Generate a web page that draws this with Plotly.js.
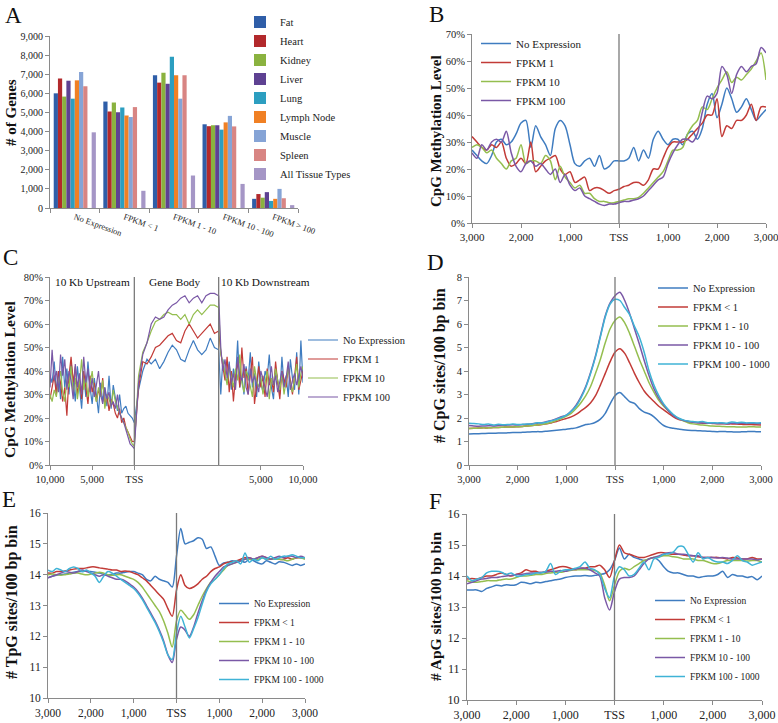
<!DOCTYPE html>
<html>
<head>
<meta charset="utf-8">
<script src="https://cdn.plot.ly/plotly-3.0.1.min.js"></script>
<style>
  body { margin: 0; background: #fff; }
  #figure { width: 778px; height: 723px; }
</style>
</head>
<body>
<div id="figure"></div>
<script>
// ---------- Panel A: genes per expression class ----------
const expr_classes = ["No Expression", "FPKM < 1", "FPKM 1 - 10", "FPKM 10 - 100", "FPKM > 100"];
const tissues = ["Fat", "Heart", "Kidney", "Liver", "Lung", "Lymph Node", "Muscle", "Spleen", "All Tissue Types"];
const tissue_colors = ["#2F5EA8", "#B2292C", "#8AB23F", "#5E4192", "#2C9EC0", "#F08024", "#86A4D6", "#D88583", "#A596C6"];

const fat_genes = [6000, 5570, 6950, 4380, 480];
const heart_genes = [6780, 5050, 6560, 4280, 730];
const kidney_genes = [5830, 5520, 7080, 4330, 540];
const liver_genes = [6660, 5010, 6500, 4330, 830];
const lung_genes = [5720, 5260, 7920, 4100, 370];
const lymph_genes = [6680, 4840, 6950, 4480, 480];
const muscle_genes = [7120, 4760, 5720, 4820, 1000];
const spleen_genes = [6370, 5280, 6950, 4270, 510];
const all_tissue_genes = [3960, 900, 1700, 1260, 150];

// ---------- shared bins for the TSS profiles (bp from TSS) ----------
const bins = [-3000,-2900,-2800,-2700,-2600,-2500,-2400,-2300,-2200,-2100,
              -2000,-1900,-1800,-1700,-1600,-1500,-1400,-1300,-1200,-1100,
              -1000,-900,-800,-700,-600,-500,-400,-300,-200,-100,
              0,100,200,300,400,500,600,700,800,900,
              1000,1100,1200,1300,1400,1500,1600,1700,1800,1900,
              2000,2100,2200,2300,2400,2500,2600,2700,2800,2900,3000];
const profile_ticks = [-3000, -2000, -1000, 0, 1000, 2000, 3000];
const profile_tick_text = ["3,000", "2,000", "1,000", "TSS", "1,000", "2,000", "3,000"];

const line_colors = ["#3F7CC0", "#C23B37", "#94BE4F", "#7A58A6", "#3FB3D6"];
const names_b = ["No Expression", "FPKM 1", "FPKM 10", "FPKM 100"];
const names_fpkm = ["No Expression", "FPKM < 1", "FPKM 1 - 10", "FPKM 10 - 100", "FPKM 100 - 1000"];

// ---------- Panel B: CpG methylation (%) around TSS ----------
const meth_noexp = [27,25,23,22,25,30,31,29,30,33, 37,38,28,36,32,29,25,35,38,36,
                    29,22,21,23,24,21,25,20,21,23, 23,23,24,28,23,27,24,31,34,31,
                    29,31,31,29,33,34,31,35,44,48, 39,44,50,46,41,43,46,42,38,40,42];
const meth_fpkm1 = [32,30,28,27,29,28,30,24,21,22, 24,22,30,19,21,23,24,25,20,18,
                    19,15,16,17,12,13,13,12,11,12, 12.5,13.5,14,15,15,14,16,20,20,24,
                    28,30,30,30,31,33,35,37,40,40, 46,32,36,35,38,38,40,44,38,43,43];
const meth_fpkm10 = [28,29,28,26,27,24,22,20,23,24, 29,22,23,23,22,25,23,16,21,17,
                     15,13,14,11,11,9,8,8,7.5,7.5, 8,8.5,9,9,9.5,11,13,15,17,19,
                     23,27,27,28,33,36,38,43,42,46, 50,53,56,52,54,53,55,57,60,63,53];
const meth_fpkm100 = [26,24,29,27,30,31,30,34,26,21, 19,22,23,21,22,20,18,20,15,18,
                      14,12,13,10,9,8,7,6.5,7,7, 7.5,8,8,8.5,9,10,12,14,16,17,
                      22,26,29,31,31,30,33,41,47,46, 48,58,55,48,55,58,56,58,59,65,63];

// ---------- Panel C: methylation across upstream / gene body / downstream ----------
// x units: -100..0 = 10 kb upstream, 0..100 = gene body (%), 100..200 = 10 kb downstream
const body_bins = [-100,-97.5,-95,-92.5,-90,-87.5,-85,-82.5,-80,-77.5,
                   -75,-72.5,-70,-67.5,-65,-62.5,-60,-57.5,-55,-52.5,
                   -50,-47.5,-45,-42.5,-40,-37.5,-35,-32.5,-30,-27.5,
                   -25,-22.5,-20,-17.5,-15,-12.5,-10,-7.5,-5,-2.5,
                   0,5,10,15,20,25,30,35,40,45,50,55,60,65,70,75,80,85,90,95,100,
                   102.5,105,107.5,110,112.5,115,117.5,120,122.5,125,
                   127.5,130,132.5,135,137.5,140,142.5,145,147.5,150,
                   152.5,155,157.5,160,162.5,165,167.5,170,172.5,175,
                   177.5,180,182.5,185,187.5,190,192.5,195,197.5,200];
const body_ticks = [-100, -50, 0, 150, 200];
const body_tick_text = ["10,000", "5,000", "TSS", "5,000", "10,000"];
const region_labels = ["10 Kb Upstream", "Gene Body", "10 Kb Downstream"];
const region_centers = [-50, 48, 155];
const region_edges = [0, 100];

const body_noexp = [38,35,44,31,40,28,46,33,41,30, 44,36,27,42,33,24,38,29,44,33,
                    26,37,30,22,35,27,33,25,38,24, 34,29,23,30,22,24,25,22,21,20,
                    18,32,40,45,43,45,41,44,48,51,49,45,44,49,53,49,47,49,54,50,49,
                    30,45,38,35,44,32,41,36,53,33, 38,30,42,36,48,33,39,29,44,35,
                    31,40,37,47,33,28,41,36,30,46, 34,38,29,45,37,32,48,30,53,35];
const body_fpkm1 = [28,33,38,30,40,35,27,33,21,38, 46,35,42,30,36,28,40,33,26,38,
                    31,35,27,32,29,37,25,30,23,28, 26,22,20,24,18,20,16,14,12,10,
                    10,33,44,43,46,50,51,53,55,56,53,52,57,60,57,54,56,58,60,56,57,
                    48,42,36,46,31,40,27,38,44,33, 50,37,41,30,39,46,26,35,42,33,
                    38,29,41,34,37,31,44,35,28,40, 36,33,42,35,30,38,46,32,36,40];
const body_fpkm10 = [30,27,32,29,35,40,31,27,36,33, 42,30,37,28,35,45,32,38,29,34,
                     40,31,27,33,29,36,24,30,28,25, 32,27,24,22,20,18,16,14,11,9,
                     8,38,48,52,57,61,62,64,65,64,64,62,64,60,64,66,64,66,68,68,67,
                     47,44,39,34,42,37,33,41,36,47, 35,31,40,38,34,29,42,36,33,38,
                     30,35,40,28,37,34,41,36,32,39, 30,36,41,34,31,37,43,33,39,42];
const body_fpkm100 = [33,49,36,40,31,47,38,45,32,40, 36,28,43,33,39,30,46,35,41,31,
                      37,29,34,40,30,26,33,28,31,25, 27,24,30,22,20,18,15,12,9,8,
                      7,35,47,52,60,63,62,63,66,68,69,71,72,69,71,72,69,72,73,73,72,
                      50,40,45,37,43,35,39,32,46,38, 36,43,33,30,41,35,38,34,31,40,
                      37,33,29,36,42,34,38,31,35,40, 33,37,44,32,36,39,34,38,42,37];

// ---------- Panel D: CpG sites per 100 bp ----------
const cpg_noexp = [1.32,1.33,1.33,1.34,1.35,1.35,1.36,1.36,1.37,1.38,
                   1.38,1.39,1.4,1.41,1.42,1.42,1.44,1.46,1.48,1.5,
                   1.52,1.55,1.58,1.65,1.72,1.75,1.82,1.95,2.2,2.6,
                   2.95,3.08,2.9,2.7,2.62,2.4,2.25,2.18,2.05,1.85,
                   1.68,1.6,1.56,1.53,1.5,1.48,1.47,1.46,1.45,1.44,
                   1.43,1.42,1.43,1.42,1.41,1.4,1.41,1.42,1.43,1.42,1.41];
const cpg_fpkm1 = [1.55,1.56,1.57,1.58,1.58,1.6,1.6,1.61,1.62,1.62,
                   1.63,1.64,1.66,1.68,1.7,1.72,1.75,1.8,1.85,1.92,
                   1.98,2.05,2.15,2.3,2.45,2.65,2.95,3.4,3.9,4.4,
                   4.8,4.95,4.75,4.35,3.9,3.5,3.15,2.9,2.7,2.5,
                   2.35,2.2,2.05,1.95,1.9,1.85,1.82,1.8,1.78,1.78,
                   1.77,1.76,1.76,1.75,1.75,1.74,1.73,1.72,1.72,1.71,1.7];
const cpg_fpkm10 = [1.55,1.56,1.57,1.58,1.58,1.6,1.6,1.61,1.62,1.62,
                    1.63,1.64,1.66,1.68,1.7,1.73,1.77,1.82,1.9,1.98,
                    2.08,2.2,2.4,2.65,2.95,3.35,3.9,4.5,5.2,5.8,
                    6.15,6.3,6.05,5.6,5.05,4.5,4.0,3.5,3.1,2.75,
                    2.5,2.3,2.12,1.98,1.88,1.8,1.75,1.72,1.7,1.68,
                    1.66,1.65,1.64,1.63,1.63,1.62,1.62,1.62,1.63,1.62,1.62];
const cpg_fpkm100 = [1.68,1.66,1.65,1.66,1.67,1.66,1.68,1.69,1.7,1.71,
                     1.7,1.72,1.73,1.76,1.78,1.8,1.85,1.9,1.97,2.05,
                     2.12,2.3,2.55,2.9,3.35,3.95,4.65,5.5,6.35,6.9,
                     7.2,7.35,7.0,6.45,5.8,5.15,4.45,3.8,3.25,2.85,
                     2.55,2.3,2.1,1.98,1.9,1.85,1.82,1.8,1.79,1.78,
                     1.78,1.77,1.77,1.76,1.78,1.77,1.78,1.77,1.78,1.77,1.77];
const cpg_fpkm1000 = [1.78,1.77,1.75,1.72,1.74,1.7,1.73,1.71,1.72,1.74,
                      1.72,1.73,1.75,1.74,1.8,1.79,1.83,1.88,1.95,2.02,
                      2.12,2.28,2.5,2.85,3.3,3.9,4.6,5.45,6.3,6.85,
                      7.05,7.0,6.7,6.4,5.9,5.45,4.8,4.0,3.4,2.95,
                      2.6,2.35,2.15,2.0,1.92,1.87,1.85,1.83,1.85,1.8,
                      1.8,1.79,1.8,1.78,1.83,1.8,1.82,1.79,1.8,1.79,1.8];

// ---------- Panel E: TpG sites per 100 bp ----------
const tpg_noexp = [13.9,13.95,13.98,14.0,14.02,14.05,14.08,14.1,14.1,14.12,
                   14.1,14.08,14.05,14.02,14.0,14.02,14.05,14.05,14.08,14.1,
                   14.1,14.05,14.0,13.85,13.8,13.95,13.85,13.8,13.75,13.6,
                   14.6,15.5,15.0,15.05,15.1,15.2,15.15,14.85,14.9,14.6,
                   14.3,14.38,14.4,14.45,14.42,14.45,14.4,14.5,14.45,14.38,
                   14.35,14.45,14.4,14.35,14.42,14.4,14.35,14.3,14.35,14.3,14.35];
const tpg_fpkm1 = [14.05,14.05,14.1,14.1,14.12,14.15,14.18,14.2,14.2,14.22,
                   14.25,14.25,14.22,14.2,14.18,14.15,14.15,14.1,14.12,14.1,
                   14.05,14.0,13.9,13.8,13.65,13.5,13.35,13.2,12.9,12.65,
                   13.5,14.0,13.65,13.55,13.6,13.7,13.85,13.95,14.1,14.2,
                   14.25,14.35,14.4,14.42,14.45,14.5,14.55,14.55,14.5,14.55,
                   14.6,14.55,14.5,14.55,14.5,14.5,14.55,14.5,14.55,14.55,14.55];
const tpg_fpkm10 = [14.0,14.02,14.0,13.98,14.0,14.02,14.05,14.05,14.02,14.0,
                    14.02,14.05,14.08,14.05,14.0,13.98,14.0,14.0,13.95,13.9,
                    13.85,13.75,13.6,13.4,13.2,13.0,12.8,12.5,12.1,11.65,
                    12.5,12.85,12.7,12.55,12.7,13.0,13.3,13.55,13.75,13.85,
                    14.0,14.15,14.3,14.35,14.4,14.45,14.5,14.5,14.52,14.5,
                    14.55,14.5,14.52,14.5,14.5,14.48,14.45,14.5,14.55,14.55,14.5];
const tpg_fpkm100 = [13.9,13.95,14.0,14.05,14.1,14.08,14.05,14.1,14.15,14.1,
                     14.05,14.0,13.95,14.0,13.95,13.9,13.85,13.85,13.8,13.7,
                     13.6,13.45,13.25,13.0,12.75,12.5,12.2,11.85,11.4,11.15,
                     11.9,12.3,12.2,12.0,12.3,12.75,13.15,13.5,13.75,13.95,
                     14.1,14.25,14.3,14.35,14.4,14.45,14.5,14.55,14.5,14.55,
                     14.6,14.55,14.5,14.55,14.6,14.55,14.6,14.6,14.55,14.6,14.55];
const tpg_fpkm1000 = [14.15,14.1,14.2,14.15,14.1,14.2,14.25,14.2,14.1,14.15,
                      14.05,13.95,13.75,13.95,14.1,14.05,13.95,13.85,13.75,13.65,
                      13.55,13.4,13.2,12.95,12.7,12.45,12.15,11.8,11.4,11.25,
                      12.1,12.65,12.3,11.95,12.25,12.6,13.05,13.45,13.7,13.85,
                      14.0,14.2,14.35,14.4,14.45,14.35,14.7,14.4,14.5,14.45,
                      14.55,14.5,14.6,14.5,14.55,14.6,14.6,14.65,14.6,14.55,14.55];

// ---------- Panel F: ApG sites per 100 bp ----------
const apg_noexp = [13.55,13.55,13.55,13.5,13.6,13.65,13.7,13.68,13.72,13.7,
                   13.72,13.8,13.78,13.75,13.8,13.78,13.82,13.85,13.88,13.9,
                   13.95,13.98,14.0,14.0,14.02,14.0,14.02,14.05,14.08,14.2,
                   14.5,14.9,14.55,14.7,14.6,14.55,14.5,14.55,14.6,14.5,
                   14.3,14.15,14.1,14.1,14.05,14.0,14.0,13.95,13.98,14.0,
                   14.0,14.05,14.15,13.95,14.05,14.0,14.0,13.95,13.98,13.88,14.0];
const apg_fpkm1 = [13.9,13.92,13.9,13.95,14.0,14.0,14.05,14.1,14.05,14.0,
                   14.05,14.1,14.2,14.15,14.15,14.1,14.15,14.2,14.25,14.3,
                   14.3,14.25,14.2,14.25,14.25,14.3,14.3,14.35,14.2,13.95,
                   14.5,15.0,14.75,14.7,14.65,14.6,14.6,14.65,14.7,14.75,
                   14.75,14.72,14.7,14.7,14.68,14.65,14.65,14.62,14.6,14.6,
                   14.6,14.6,14.58,14.55,14.6,14.58,14.55,14.55,14.6,14.55,14.55];
const apg_fpkm10 = [13.85,13.8,13.8,13.82,13.85,13.85,13.85,13.88,13.9,13.9,
                    13.95,14.0,14.0,14.02,14.05,14.05,14.08,14.1,14.12,14.12,
                    14.15,14.18,14.2,14.2,14.2,14.2,14.18,14.1,13.7,13.2,
                    13.7,14.15,14.25,14.2,14.3,14.4,14.5,14.55,14.6,14.62,
                    14.65,14.65,14.62,14.6,14.55,14.55,14.55,14.5,14.5,14.45,
                    14.4,14.4,14.45,14.5,14.5,14.5,14.5,14.48,14.5,14.5,14.45];
const apg_fpkm100 = [13.75,13.8,13.85,13.9,13.92,13.95,13.95,13.98,14.0,14.02,
                     14.05,14.05,14.08,14.1,14.1,14.12,14.12,14.15,14.15,14.18,
                     14.15,14.2,14.22,14.25,14.25,14.2,14.1,14.0,13.3,12.9,
                     13.5,13.9,13.95,13.95,14.0,14.2,14.4,14.55,14.6,14.65,
                     14.7,14.75,14.75,14.7,14.7,14.68,14.65,14.65,14.6,14.6,
                     14.6,14.58,14.6,14.58,14.55,14.55,14.55,14.55,14.55,14.52,14.55];
const apg_fpkm1000 = [14.0,13.85,13.9,13.95,14.1,14.15,14.15,14.12,14.05,14.1,
                      14.0,14.0,14.05,14.05,14.1,14.1,14.15,14.4,14.05,14.15,
                      14.2,14.2,14.25,14.3,14.45,14.25,14.2,14.05,13.6,13.3,
                      14.0,14.3,14.2,14.0,14.05,14.25,14.45,14.2,14.55,14.6,
                      14.7,14.72,14.78,14.95,14.95,14.7,14.45,14.75,14.55,14.6,
                      14.5,14.45,14.45,14.4,14.5,14.65,14.5,14.45,14.35,14.4,14.45];

// ---------- styling / page geometry ----------
const W = 778, H = 723;
const FONT = "Liberation Serif";
const AXIS_GRAY = "#8a8a8a";
const TSS_GRAY = "#7a7a7a";

function px(x) { return x / W; }
function py(y) { return 1 - y / H; }

function baseAxis(dom, anchor, tick_size) {
    return {
        domain: dom,
        anchor: anchor,
        showline: true,
        linecolor: AXIS_GRAY,
        linewidth: 1,
        ticks: "outside",
        ticklen: 4,
        tickcolor: AXIS_GRAY,
        showgrid: false,
        zeroline: false,
        automargin: false,
        fixedrange: true,
        ticklabeloverflow: "allow",
        tickfont: {family: FONT, size: tick_size, color: "#222"}
    };
}

function profileXAxis(dom, anchor, tick_size) {
    let ax = baseAxis(dom, anchor, tick_size);
    ax.range = [-3000, 3000];
    ax.tickmode = "array";
    ax.tickvals = profile_ticks;
    ax.ticktext = profile_tick_text;
    return ax;
}

function legendAt(x, y, size) {
    return {
        x: px(x), y: py(y),
        xanchor: "left", yanchor: "top",
        bgcolor: "rgba(0,0,0,0)",
        borderwidth: 0,
        itemwidth: 30,
        tracegroupgap: 0,
        font: {family: FONT, size: size, color: "#222"}
    };
}

function lineTraces(xs, series, names, xa, ya, legend_id, width, shape) {
    return series.map((vals, i) => ({
        type: "scatter",
        mode: "lines",
        x: xs,
        y: vals,
        name: names[i],
        xaxis: xa,
        yaxis: ya,
        legend: legend_id,
        line: shape === "linear"
            ? {color: line_colors[i], width: width, shape: "linear"}
            : {color: line_colors[i], width: width, shape: "spline", smoothing: 0.8},
        hoverinfo: "skip"
    }));
}

function barTraces() {
    let series = [fat_genes, heart_genes, kidney_genes, liver_genes, lung_genes,
                  lymph_genes, muscle_genes, spleen_genes, all_tissue_genes];
    let traces = [];
    series.forEach((vals, i) => {
        // Excel leaves one empty slot before the combined series
        if (i === series.length - 1) {
            traces.push({type: "bar", x: expr_classes, y: vals.map(() => null),
                         name: "", showlegend: false, xaxis: "x", yaxis: "y", hoverinfo: "skip"});
        }
        traces.push({
            type: "bar",
            x: expr_classes,
            y: vals,
            name: tissues[i],
            xaxis: "x",
            yaxis: "y",
            legend: "legend",
            marker: {color: tissue_colors[i], line: {width: 0}},
            hoverinfo: "skip"
        });
    });
    return traces;
}

function tssLine(xref, yref, xval) {
    return {type: "line", xref: xref, yref: yref + " domain", x0: xval, x1: xval, y0: 0, y1: 1,
            line: {color: TSS_GRAY, width: 1.3}};
}

function textNote(text, x, y, size, bold, angle) {
    return {
        text: bold ? "<b>" + text + "</b>" : text,
        xref: "paper", yref: "paper",
        x: px(x), y: py(y),
        xanchor: "center", yanchor: "middle",
        showarrow: false,
        textangle: angle || 0,
        font: {family: FONT, size: size, color: "#111"}
    };
}

function paintFigure() {
    let traces = [];
    traces = traces.concat(barTraces());
    traces = traces.concat(lineTraces(bins, [meth_noexp, meth_fpkm1, meth_fpkm10, meth_fpkm100],
                                      names_b, "x2", "y2", "legend2", 1.5));
    traces = traces.concat(lineTraces(body_bins, [body_noexp, body_fpkm1, body_fpkm10, body_fpkm100],
                                      names_b, "x3", "y3", "legend3", 1.2, "linear"));
    traces = traces.concat(lineTraces(bins, [cpg_noexp, cpg_fpkm1, cpg_fpkm10, cpg_fpkm100, cpg_fpkm1000],
                                      names_fpkm, "x4", "y4", "legend4", 1.5));
    traces = traces.concat(lineTraces(bins, [tpg_noexp, tpg_fpkm1, tpg_fpkm10, tpg_fpkm100, tpg_fpkm1000],
                                      names_fpkm, "x5", "y5", "legend5", 1.5));
    traces = traces.concat(lineTraces(bins, [apg_noexp, apg_fpkm1, apg_fpkm10, apg_fpkm100, apg_fpkm1000],
                                      names_fpkm, "x6", "y6", "legend6", 1.5));

    // panel A axes
    let xa = baseAxis([px(50), px(298)], "y", 8.5);
    xa.type = "category";
    xa.tickson = "boundaries";
    xa.tickangle = 20;
    let ya = baseAxis([py(208), py(36)], "x", 10);
    ya.range = [0, 9000];
    ya.dtick = 1000;
    ya.tickformat = ",d";

    // panel B
    let xb = profileXAxis([px(472), px(766)], "y2", 11);
    let yb = baseAxis([py(223), py(34)], "x2", 10.5);
    yb.range = [0, 70];
    yb.dtick = 10;
    yb.ticksuffix = "%";

    // panel C
    let xc = baseAxis([px(50), px(303)], "y3", 10.5);
    xc.range = [-100, 200];
    xc.tickmode = "array";
    xc.tickvals = body_ticks;
    xc.ticktext = body_tick_text;
    let yc = baseAxis([py(465), py(277)], "x3", 10.5);
    yc.range = [0, 80];
    yc.dtick = 10;
    yc.ticksuffix = "%";

    // panel D
    let xd = profileXAxis([px(469), px(761)], "y4", 10.5);
    let yd = baseAxis([py(465), py(277)], "x4", 10.5);
    yd.range = [0, 8];
    yd.dtick = 1;

    // panel E
    let xe = profileXAxis([px(48), px(305)], "y5", 11.5);
    let ye = baseAxis([py(698), py(513)], "x5", 11.5);
    ye.range = [10, 16];
    ye.dtick = 1;

    // panel F
    let xf = profileXAxis([px(467), px(762)], "y6", 12);
    let yf = baseAxis([py(700), py(514)], "x6", 12);
    yf.range = [10, 16];
    yf.dtick = 1;

    let notes = [
        textNote("A", 13.5, 15.5, 23, false),
        textNote("B", 436, 14, 23, false),
        textNote("C", 10.5, 257, 23, false),
        textNote("D", 435, 262.5, 23, false),
        textNote("E", 8.5, 499.5, 23, false),
        textNote("F", 435, 501.5, 23, false),
        textNote("# of Genes", 11, 113, 15, true, -90),
        textNote("CpG Methylation Level", 436, 131, 15, true, -90),
        textNote("CpG Methylation Level", 9, 380, 15.5, true, -90),
        textNote("# CpG sites/100 bp bin", 440, 366, 16, true, -90),
        textNote("# TpG sites/100 bp bin", 12, 602, 16, true, -90),
        textNote("# ApG sites/100 bp bin", 435, 607, 15.5, true, -90)
    ];
    region_labels.forEach((label, i) => {
        notes.push({
            text: label, xref: "x3", yref: "y3 domain",
            x: region_centers[i], y: 0.973,
            xanchor: "center", yanchor: "middle", showarrow: false,
            font: {family: FONT, size: 11.3, color: "#111"}
        });
    });

    let shapes = [tssLine("x2", "y2", 0), tssLine("x4", "y4", 0),
                  tssLine("x5", "y5", 0), tssLine("x6", "y6", 0)];
    region_edges.forEach(e => shapes.push(tssLine("x3", "y3", e)));

    let layout = {
        width: W,
        height: H,
        margin: {l: 0, r: 0, t: 0, b: 0},
        paper_bgcolor: "#fff",
        plot_bgcolor: "#fff",
        font: {family: FONT, color: "#222"},
        barmode: "group",
        bargap: 0.15,
        bargroupgap: 0,
        showlegend: true,
        xaxis: xa, yaxis: ya,
        xaxis2: xb, yaxis2: yb,
        xaxis3: xc, yaxis3: yc,
        xaxis4: xd, yaxis4: yd,
        xaxis5: xe, yaxis5: ye,
        xaxis6: xf, yaxis6: yf,
        legend: legendAt(240, 7.5, 10.5),
        legend2: legendAt(476, 29, 11),
        legend3: legendAt(303, 325.5, 10.5),
        legend4: legendAt(653, 273.5, 10.5),
        legend5: legendAt(214, 589, 9.5),
        legend6: legendAt(650, 586, 9.5),
        annotations: notes,
        shapes: shapes
    };

    Plotly.newPlot("figure", traces, layout, {displayModeBar: false, staticPlot: true});
}

function main() {
    paintFigure();
}

main();
</script>
</body>
</html>
